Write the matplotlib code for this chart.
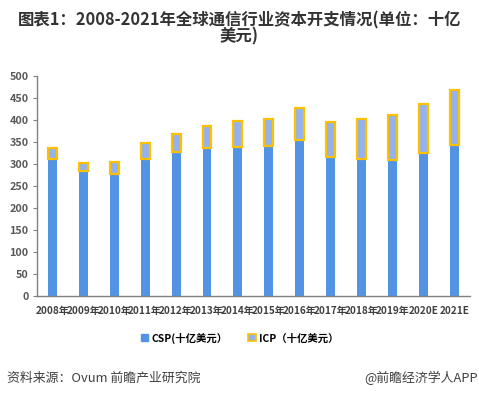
import matplotlib
matplotlib.use("Agg")
import matplotlib.pyplot as plt
import numpy as np
from matplotlib.patches import Patch

plt.rcParams['font.family'] = ['Noto Sans CJK SC', 'DejaVu Sans']

categories = ["2008年", "2009年", "2010年", "2011年", "2012年", "2013年", "2014年",
              "2015年", "2016年", "2017年", "2018年", "2019年", "2020E", "2021E"]
csp = [311, 285, 276, 312, 326, 335, 339, 340, 354, 315, 311, 308, 324, 344]
icp = [25, 18, 29, 35, 42, 50, 59, 63, 74, 81, 92, 102, 112, 123]
yticks = [0, 50, 100, 150, 200, 250, 300, 350, 400, 450, 500]

title = "图表1：2008-2021年全球通信行业资本开支情况(单位：十亿\n美元)"
legend_labels = ["CSP(十亿美元）", "ICP（十亿美元）"]
source = "资料来源：Ovum 前瞻产业研究院"
brand = "@前瞻经济学人APP"

blue = "#5393E3"
light = "#93B2EE"
yellow = "#FFC000"

fig = plt.figure(figsize=(4.79, 3.99), dpi=100)
ax = fig.add_axes([0.077, 0.258, 0.904, 0.552])

x = np.arange(len(categories))
w = 0.29
ax.bar(x, csp, width=w, color=blue, zorder=2)
ax.bar(x, icp, bottom=csp, width=w, color=light, edgecolor=yellow, linewidth=1.6, zorder=3)

ax.set_xlim(-0.5, len(categories) - 0.5)
ax.set_ylim(0, 500)
ax.set_yticks(yticks)
ax.set_yticklabels([str(v) for v in yticks], fontsize=7.8, color="#595959", fontweight="bold")
ax.set_xticks(x)
ax.set_xticklabels(categories, fontsize=7.2, color="#404040", fontweight="bold")
ax.tick_params(axis='x', length=0, pad=7)
ax.tick_params(axis='y', length=3, color="#808080", width=0.8, pad=3)
for s in ["top", "right"]:
    ax.spines[s].set_visible(False)
for s in ["left", "bottom"]:
    ax.spines[s].set_color("#808080")
    ax.spines[s].set_linewidth(1.0)

handles = [Patch(facecolor=blue, edgecolor=blue),
           Patch(facecolor=light, edgecolor=yellow, linewidth=1.2)]
fig.legend(handles, legend_labels, loc="center", bbox_to_anchor=(0.5, 0.153), ncol=2,
           frameon=False, prop={'weight': 'bold', 'size': 7.5}, handlelength=0.7,
           handleheight=0.7, handletextpad=0.3, columnspacing=2.0)

fig.text(0.5, 0.929, title, ha="center", va="center", fontsize=11.8, fontweight="bold",
         color="#333333", linespacing=0.9)
fig.text(0.015, 0.052, source, ha="left", va="center", fontsize=9.3, color="#404040")
fig.text(0.998, 0.052, brand, ha="right", va="center", fontsize=9.3, color="#404040")

fig.savefig("out.png", dpi=100)
